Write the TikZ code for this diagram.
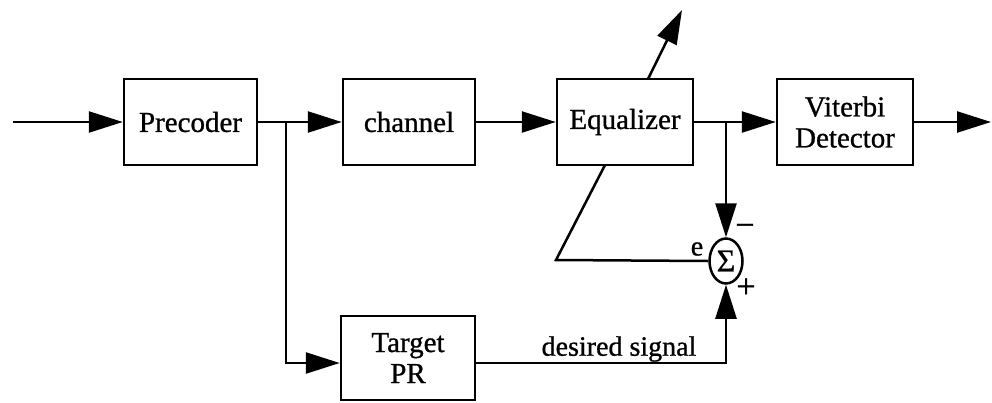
\documentclass[tikz,border=0pt]{standalone}
\usepackage{fontspec}
\setmainfont[FakeBold=0.9]{Liberation Serif}
\usetikzlibrary{arrows.meta,shapes.geometric,backgrounds}
\tikzset{
  blk/.style={draw, line width=2.5pt, fill=white, inner sep=0pt, minimum height=86pt,
    font=\fontsize{29}{31}\selectfont, align=center},
  conn/.style={line width=2.5pt},
  arr/.style={conn, -{Triangle[length=34pt,width=21pt]}},
  lbl/.style={font=\fontsize{28}{28}\selectfont, inner sep=0pt},
}
\begin{document}
\begin{tikzpicture}[x=1pt,y=-1pt]
\useasboundingbox (0,0) rectangle (992,402);
\node[blk, minimum width=133pt] (pre) at (190.5,122) {Precoder};
\node[blk, minimum width=132pt] (ch) at (409,122) {channel};
\node[blk, minimum width=136pt] (eq) at (625,122) {Equalizer};
\node[blk, minimum width=136pt] (vit) at (845,122) {Viterbi\\Detector};
\node[blk, minimum width=134pt, minimum height=84pt] (tpr) at (408,358) {Target\\PR};
\node[draw, ellipse, line width=2.5pt, inner sep=0pt, minimum width=33pt, minimum height=45pt,
  font=\fontsize{32}{32}\selectfont] (sum) at (726,261) {Σ};
\coordinate (in) at (13,122);
\coordinate (out) at (991,122);
\coordinate (br) at (286,122);
\coordinate (jn) at (726,122);
\coordinate (ec) at (556,260);
\coordinate (tip) at (682,10);
\coordinate (bl) at (286,363);
\coordinate (dr) at (726,363);
\begin{scope}[on background layer]
  \draw[conn] (sum.west) -- (ec) -- (605,165);
  \draw[arr] (648,79) -- (tip);
\end{scope}
\draw[arr] (in) -- (pre.west);
\draw[arr] (pre.east) -- (ch.west);
\draw[arr] (ch.east) -- (eq.west);
\draw[arr] (eq.east) -- (vit.west);
\draw[arr] (vit.east) -- (out);
\draw[arr] (jn) -- (sum.north);
\draw[arr] (br) -- (bl) -- (tpr.west |- bl);
\draw[arr] (tpr.east |- dr) -- (dr) -- (sum.south);
\node[lbl] (dl) at (619,349) {desired signal};
\node[lbl] (el) at (697,249) {e};
\node[lbl, font=\fontsize{34}{34}\selectfont] (mi) at (745,230) {−};
\node[lbl, font=\fontsize{34}{34}\selectfont] (pl) at (746,288) {+};
\end{tikzpicture}
\end{document}
